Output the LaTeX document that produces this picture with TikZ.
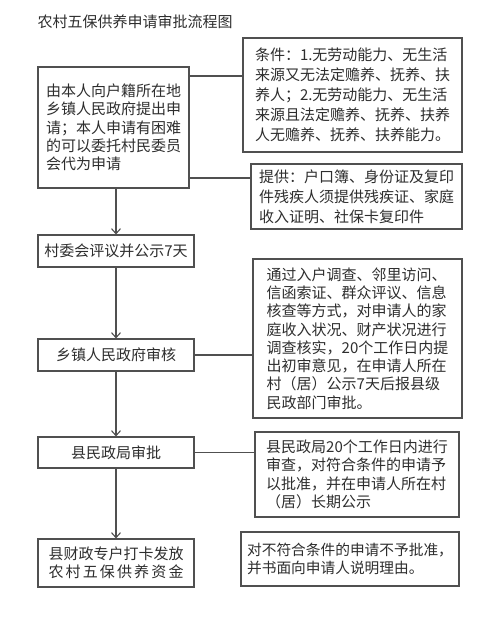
\documentclass[tikz,border=0pt]{standalone}
\usepackage{fontspec}
\setmainfont{Noto Sans CJK SC}
\usetikzlibrary{arrows.meta}
\definecolor{linec}{HTML}{505050}
\definecolor{textc}{HTML}{2E2E2E}
\begin{document}
\begin{tikzpicture}[x=1pt,y=-1pt,
  box/.style={draw=linec, line width=1.1pt, inner sep=0pt, text=textc, align=left,
    font=\fontsize{15}{18.3}\selectfont},
  conn/.style={draw=linec, line width=1.1pt},
  arr/.style={conn, -{Straight Barb[length=5pt,width=9pt,line width=1.1pt]}}]
\useasboundingbox[fill=white] (0,0) rectangle (500,618);
\node[text=textc, font=\fontsize{15}{18}\selectfont] (title) at (135,22) {农村五保供养申请审批流程图};
% left column
\node[box, minimum width=151pt, minimum height=121pt] (b1) at (113.5,127.5)
  {由本人向户籍所在地\\乡镇人民政府提出申\\请；本人申请有困难\\的可以委托村民委员\\会代为申请};
\node[box, minimum width=156pt, minimum height=32pt] (b2) at (116,251) {村委会评议并公示7天};
\node[box, minimum width=156pt, minimum height=32pt] (b3) at (116,355) {乡镇人民政府审核};
\node[box, minimum width=156pt, minimum height=31pt] (b4) at (116,452.5) {县民政局审批};
\node[box, minimum width=156pt, minimum height=48pt] (b5) at (116,563)
  {县财政专户打卡发放\\\hbox to 135pt{农\hfill 村\hfill 五\hfill 保\hfill 供\hfill 养\hfill 资\hfill 金}};
% right column
\node[box, minimum width=219pt, minimum height=114pt, font=\fontsize{15}{20}\selectfont] (r1) at (352.5,95)
  {条件：1.无劳动能力、无生活\\来源又无法定赡养、抚养、扶\\养人；2.无劳动能力、无生活\\来源且法定赡养、抚养、扶养\\人无赡养、抚养、扶养能力。};
\node[box, minimum width=211pt, minimum height=65pt, font=\fontsize{15}{20}\selectfont] (r2) at (356.5,196.5)
  {提供：户口簿、身份证及复印\\件残疾人须提供残疾证、家庭\\收入证明、社保卡复印件};
\node[box, minimum width=209pt, minimum height=159pt] (r3) at (357.5,338.5)
  {通过入户调查、邻里访问、\\信函索证、群众评议、信息\\核查等方式，对申请人的家\\庭收入状况、财产状况进行\\调查核实，20个工作日内提\\出初审意见，在申请人所在\\村（居）公示7天后报县级\\民政部门审批。};
\node[box, minimum width=204pt, minimum height=85pt] (r4) at (357,474.5)
  {县民政局20个工作日内进行\\审查，对符合条件的申请予\\以批准，并在申请人所在村\\（居）长期公示};
\node[box, minimum width=218pt, minimum height=54pt, font=\fontsize{14.7}{18.3}\selectfont] (r5) at (350,559)
  {对不符合条件的申请不予批准，\\并书面向申请人说明理由。};
% vertical arrows
\draw[arr] (b2.north |- b1.south) -- (b2.north);
\draw[arr] (b2.south) -- (b3.north);
\draw[arr] (b3.south) -- (b4.north);
\draw[arr] (b4.south) -- (b5.north);
% horizontal connectors
\coordinate (c1) at (189,76);
\coordinate (c2) at (189,178);
\draw[conn] (c1) -- (c1 -| r1.west);
\draw[conn] (c2) -- (c2 -| r2.west);
\draw[conn] (b3.east) -- (b3.east -| r3.west);
\draw[conn] (b4.east) -- (b4.east -| r4.west);
\end{tikzpicture}
\end{document}
